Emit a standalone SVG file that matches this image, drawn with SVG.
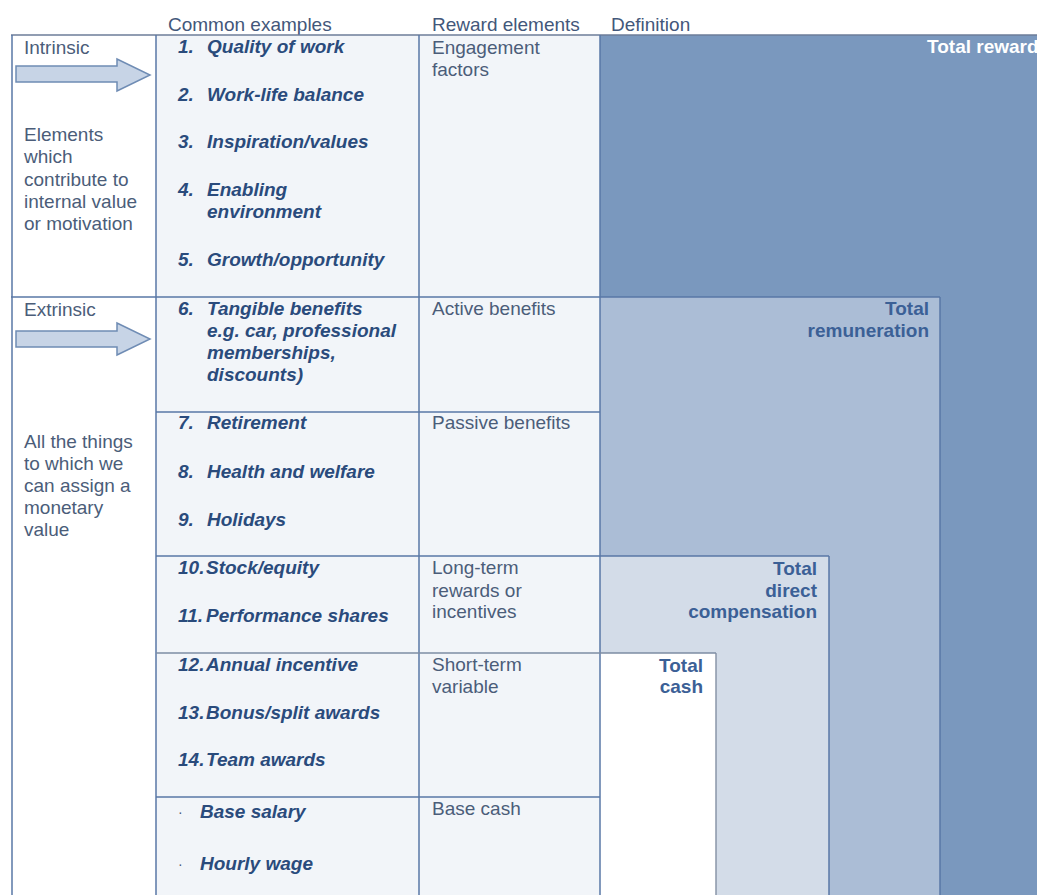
<svg xmlns="http://www.w3.org/2000/svg" width="1037" height="895" viewBox="0 0 1037 895">
<style>
text{font-family:"Liberation Sans",Arial,sans-serif;font-size:19px}
.h{fill:#43577A}
.p{fill:#4B5D79}
.b{fill:#2A4B7C;font-weight:bold;font-style:italic}
.t{fill:#3B6096;font-weight:bold;text-anchor:end}
.ln{stroke:#5877A6;stroke-width:1.5;fill:none}
.fr{stroke:#6C7D98;stroke-width:1.5;fill:none}
.arrow{fill:#C7D4E6;stroke:#6F8CB4;stroke-width:1.5}
</style>
<rect width="1037" height="895" fill="#FFFFFF"/>
<g id="headers">
<text class="h" x="168" y="31">Common examples</text>
<text class="h" x="432" y="31">Reward elements</text>
<text class="h" x="611" y="31">Definition</text>
</g>
<g id="background">
<rect x="156" y="35" width="444" height="860" fill="#F2F5F9"/>
<rect x="600" y="35" width="437" height="860" fill="#7A98BE"/>
</g>
<g id="total-rewards">
<text x="927" y="53" style="fill:#FFFFFF;font-weight:bold">Total reward</text>
</g>
<g id="total-remuneration">
<rect x="600" y="297" width="340" height="598" fill="#ABBDD6"/>
<line class="ln" x1="940" y1="297" x2="940" y2="895"/>
<text class="t" x="929" y="315">Total</text>
<text class="t" x="929" y="337">remuneration</text>
</g>
<g id="total-direct-compensation">
<rect x="600" y="556" width="229" height="339" fill="#D3DCE8"/>
<line class="ln" x1="829" y1="556" x2="829" y2="895"/>
<text class="t" x="817" y="575">Total</text>
<text class="t" x="817" y="597">direct</text>
<text class="t" x="817" y="618">compensation</text>
</g>
<g id="total-cash">
<rect x="600" y="653" width="116" height="242" fill="#FFFFFF"/>
<line x1="716" y1="653" x2="716" y2="895" stroke="#8A96A8" stroke-width="1.5"/>
<text class="t" x="703" y="672">Total</text>
<text class="t" x="703" y="693">cash</text>
</g>
<g id="grid">
<line class="fr" x1="11" y1="35" x2="1037" y2="35"/>
<line class="ln" x1="12" y1="35" x2="12" y2="895"/>
<line class="ln" x1="156" y1="35" x2="156" y2="895"/>
<line class="ln" x1="419" y1="35" x2="419" y2="895"/>
<line class="ln" x1="600" y1="35" x2="600" y2="895"/>
<line class="ln" x1="11" y1="297" x2="940" y2="297"/>
<line class="ln" x1="156" y1="412" x2="600" y2="412"/>
<line class="ln" x1="156" y1="556" x2="829" y2="556"/>
<line x1="156" y1="653" x2="716" y2="653" stroke="#7D8CA3" stroke-width="1.5"/>
<line class="ln" x1="156" y1="797" x2="600" y2="797"/>
</g>
<g id="intrinsic">
<text class="p" x="24" y="54">Intrinsic</text>
<text class="p" x="24" y="141">Elements</text>
<text class="p" x="24" y="163">which</text>
<text class="p" x="24" y="186">contribute to</text>
<text class="p" x="24" y="208">internal value</text>
<text class="p" x="24" y="230">or motivation</text>
</g>
<g id="extrinsic">
<text class="p" x="24" y="316">Extrinsic</text>
<text class="p" x="24" y="448">All the things</text>
<text class="p" x="24" y="470">to which we</text>
<text class="p" x="24" y="492">can assign a</text>
<text class="p" x="24" y="514">monetary</text>
<text class="p" x="24" y="536">value</text>
</g>
<g id="engagement">
<text class="b"><tspan x="178" y="53">1.</tspan><tspan x="207">Quality of work</tspan></text>
<text class="b"><tspan x="178" y="101">2.</tspan><tspan x="207">Work-life balance</tspan></text>
<text class="b"><tspan x="178" y="148">3.</tspan><tspan x="207">Inspiration/values</tspan></text>
<text class="b"><tspan x="178" y="196">4.</tspan><tspan x="207">Enabling</tspan></text>
<text class="b" x="207" y="218">environment</text>
<text class="b"><tspan x="178" y="266">5.</tspan><tspan x="207">Growth/opportunity</tspan></text>
<text class="p" x="432" y="54">Engagement</text>
<text class="p" x="432" y="76">factors</text>
</g>
<g id="active-benefits">
<text class="b"><tspan x="178" y="315">6.</tspan><tspan x="207">Tangible benefits</tspan></text>
<text class="b" x="207" y="337">e.g. car, professional</text>
<text class="b" x="207" y="359">memberships,</text>
<text class="b" x="207" y="381">discounts)</text>
<text class="p" x="432" y="315">Active benefits</text>
</g>
<g id="passive-benefits">
<text class="b"><tspan x="178" y="429">7.</tspan><tspan x="207">Retirement</tspan></text>
<text class="b"><tspan x="178" y="478">8.</tspan><tspan x="207">Health and welfare</tspan></text>
<text class="b"><tspan x="178" y="526">9.</tspan><tspan x="207">Holidays</tspan></text>
<text class="p" x="432" y="429">Passive benefits</text>
</g>
<g id="long-term">
<text class="b"><tspan x="178" y="574">10.</tspan><tspan x="206">Stock/equity</tspan></text>
<text class="b"><tspan x="178" y="622">11.</tspan><tspan x="206">Performance shares</tspan></text>
<text class="p" x="432" y="574">Long-term</text>
<text class="p" x="432" y="597">rewards or</text>
<text class="p" x="432" y="618">incentives</text>
</g>
<g id="short-term">
<text class="b"><tspan x="178" y="671">12.</tspan><tspan x="206">Annual incentive</tspan></text>
<text class="b"><tspan x="178" y="719">13.</tspan><tspan x="206">Bonus/split awards</tspan></text>
<text class="b"><tspan x="178" y="766">14.</tspan><tspan x="206">Team awards</tspan></text>
<text class="p" x="432" y="671">Short-term</text>
<text class="p" x="432" y="693">variable</text>
</g>
<g id="base-cash">
<text class="p" x="178" y="817" style="font-size:14px">·</text>
<text class="b" x="200" y="818">Base salary</text>
<text class="p" x="178" y="869" style="font-size:14px">·</text>
<text class="b" x="200" y="870">Hourly wage</text>
<text class="p" x="432" y="815">Base cash</text>
</g>
<g id="connectors">
<polygon class="arrow" points="16,66 117,66 117,59 150,75 117,91 117,82 16,82"/>
<polygon class="arrow" points="16,331 117,331 117,323 150,339 117,355 117,347 16,347"/>
</g>
</svg>
